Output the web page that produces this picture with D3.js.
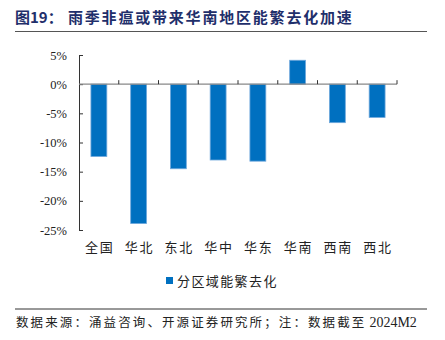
<!DOCTYPE html>
<html><head><meta charset="utf-8">
<script src="https://cdn.jsdelivr.net/npm/d3@7"></script>
<style>body{margin:0;background:#fff;}svg{display:block;}</style>
</head><body>
<svg id="c" width="445" height="340"></svg>
<script>
const categories = ["全国","华北","东北","华中","华东","华南","西南","西北"];
const values = [-12.4, -23.9, -14.5, -13.0, -13.2, 4.1, -6.6, -5.7];
const yTicks = [5, 0, -5, -10, -15, -20, -25];
const seriesName = "分区域能繁去化";
const titleLabel = "图19：";
const titleText = "雨季非瘟或带来华南地区能繁去化加速";
const sourceText = "数据来源：涌益咨询、开源证券研究所；注：数据截至";
const sourceDate = "2024M2";

const svg = d3.select("#c");
const cjk = "'Noto Sans CJK SC', sans-serif";
const serif = "'Liberation Serif', 'Times New Roman', serif";

svg.append("text").attr("x",15).attr("y",23).text(titleLabel)
  .attr("font-family",cjk).attr("font-weight","bold").attr("font-size",15).attr("fill","#1F2F6B");
svg.append("text").attr("x",68).attr("y",23).text(titleText)
  .attr("font-family",cjk).attr("font-weight","bold").attr("font-size",15).attr("letter-spacing",1.8).attr("fill","#1F2F6B");
svg.append("line").attr("x1",15).attr("x2",427).attr("y1",31.5).attr("y2",31.5)
  .attr("stroke","#555").attr("stroke-width",1.2);

const x = d3.scaleBand().domain(categories).range([79,397]).paddingInner(0.6).paddingOuter(0.3);
const y = d3.scaleLinear().domain([-25,5]).range([230,55]);

// bars
svg.append("g").selectAll("rect").data(values).join("rect")
  .attr("x",(d,i)=>x(categories[i]))
  .attr("width",x.bandwidth())
  .attr("y",d=>y(Math.max(0,d)))
  .attr("height",d=>Math.abs(y(d)-y(0)))
  .attr("fill","#0070C0").attr("stroke","#6FA8DC").attr("stroke-width",0.8);

// y axis
const yAxis = d3.axisLeft(y).tickValues(yTicks).tickFormat(d=>d+"%").tickSizeInner(-4).tickSizeOuter(0).tickPadding(12);
const gy = svg.append("g").attr("transform","translate(79,0)").call(yAxis);
gy.select(".domain").attr("stroke","#333");
gy.selectAll(".tick line").attr("stroke","#333");
gy.selectAll("text").attr("font-family",serif).attr("font-size",12.5).attr("fill","#222");

// x axis at zero
const band = x.step();
const boundaries = categories.map((c,i)=>79 + band*(i+1));
const gx = svg.append("g");
gx.append("line").attr("x1",79).attr("x2",397).attr("y1",y(0)).attr("y2",y(0)).attr("stroke","#888").attr("stroke-width",1.2);
gx.selectAll("line.t").data(boundaries).join("line").attr("class","t")
  .attr("x1",d=>d).attr("x2",d=>d).attr("y1",y(0)).attr("y2",y(0)-4).attr("stroke","#333");

// category labels
svg.append("g").selectAll("text").data(categories).join("text")
  .attr("x",d=>x(d)+x.bandwidth()/2+0.8).attr("y",252).attr("text-anchor","middle")
  .attr("font-family",cjk).attr("font-size",13).attr("letter-spacing",1.6).attr("fill","#222").text(d=>d);

// legend
svg.append("rect").attr("x",166).attr("y",277).attr("width",7).attr("height",7).attr("fill","#0070C0");
svg.append("text").attr("x",177).attr("y",285.5).text(seriesName)
  .attr("font-family",cjk).attr("font-size",13).attr("letter-spacing",1.4).attr("fill","#222");

// bottom
svg.append("line").attr("x1",15).attr("x2",427).attr("y1",309).attr("y2",309).attr("stroke","#333").attr("stroke-width",1);
const src = svg.append("text").attr("x",16).attr("y",327)
  .attr("font-family",cjk).attr("font-size",12.5).attr("fill","#222");
src.append("tspan").attr("letter-spacing",2.1).text(sourceText);
src.append("tspan").attr("dx",3).attr("font-family",serif).attr("font-size",14).text(sourceDate);
</script>
</body></html>
